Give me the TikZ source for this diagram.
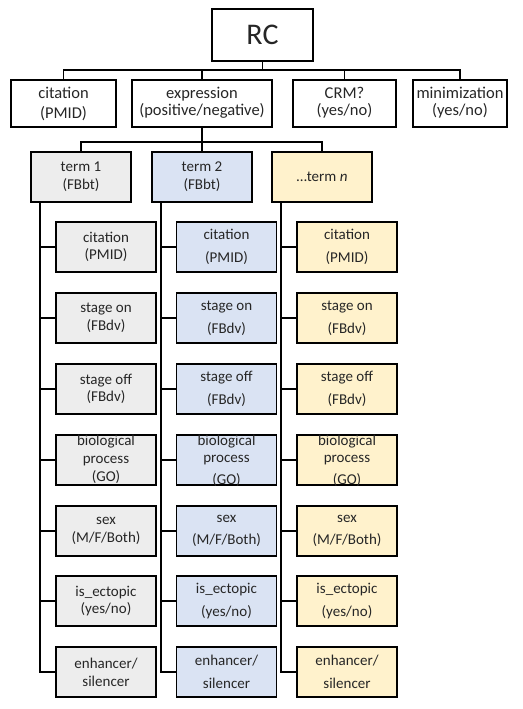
\documentclass[tikz,border=0pt]{standalone}
\usepackage{fontspec}
\setmainfont{Carlito}
\definecolor{gfill}{HTML}{EDEDED}
\definecolor{bfill}{HTML}{DAE3F3}
\definecolor{yfill}{HTML}{FFF2CC}
\definecolor{tcol}{HTML}{262626}
\begin{document}
\begin{tikzpicture}[x=1pt,y=-1pt,
  box/.style={draw=black, line width=1.8pt, inner sep=0pt, minimum height=50pt, minimum width=100pt},
  topbox/.style={box, minimum height=47pt},
  conn/.style={draw=black, line width=1.6pt},
  ttop/.style={inner sep=0pt, align=center, text=tcol, font=\fontsize{16.5}{17}\selectfont},
  tone/.style={inner sep=0pt, align=center, text=tcol, font=\fontsize{15}{17.7}\selectfont},
  ttwo/.style={inner sep=0pt, align=center, text=tcol, font=\fontsize{15}{22.6}\selectfont},
  trc/.style={inner sep=0pt, text=tcol, font=\fontsize{30}{36}\selectfont}]
\useasboundingbox (0,0) rectangle (522,709);

% root
\node[box, minimum width=101pt, minimum height=52pt] (rc) at (262.5,35) {};
\node[trc] (rct) at (rc.center) {RC};

% top row
\node[topbox, minimum width=105pt] (cit) at (63.5,103.5) {};
\node[ttop, font=\fontsize{16.5}{20}\selectfont] (citt) at (cit.center) {citation\\(PMID)};
\node[topbox, minimum width=140pt] (expr) at (202,103.5) {};
\node[ttop] (exprt) at ([yshift=1pt]expr.center) {expression\\(positive/negative)};
\node[topbox, minimum width=103pt] (crm) at (344.5,103.5) {};
\node[ttop] (crmt) at ([yshift=1pt]crm.center) {CRM?\\(yes/no)};
\node[topbox, minimum width=94pt] (mini) at (460,103.5) {};
\node[ttop] (minit) at ([yshift=1pt]mini.center) {minimization\\(yes/no)};

\foreach \n in {cit,expr,crm,mini}
  \draw[conn] (rc.south) -- ++(0,8) -| (\n.north);

% term row
\node[box, fill=gfill] (t1) at (81,177) {};
\node[tone] (t1t) at (t1.center) {term 1\\(FBbt)};
\node[box, fill=bfill] (t2) at (202,177) {};
\node[tone] (t2t) at (t2.center) {term 2\\(FBbt)};
\node[box, fill=yfill] (t3) at (322,177) {};
\node[tone] (t3t) at (t3.center) {\ldots term \textit{n}};

\foreach \n in {t1,t2,t3}
  \draw[conn] (expr.south) -- ++(0,14) -| (\n.north);

% children
\foreach \col/\xc/\fc/\ts in {1/106/gfill/tone, 2/226.5/bfill/ttwo, 3/347/yfill/ttwo}{
  \node[box, fill=\fc] (c\col-1) at (\xc,247) {};
  \node[\ts] (c\col-1t) at (c\col-1.center) {citation\\(PMID)};
  \node[box, fill=\fc] (c\col-2) at (\xc,318) {};
  \node[\ts] (c\col-2t) at (c\col-2.center) {stage on\\(FBdv)};
  \node[box, fill=\fc] (c\col-3) at (\xc,389) {};
  \node[\ts] (c\col-3t) at (c\col-3.center) {stage off\\(FBdv)};
  \node[box, fill=\fc] (c\col-4) at (\xc,460) {};
  \node[box, fill=\fc] (c\col-5) at (\xc,531) {};
  \node[\ts] (c\col-5t) at (c\col-5.center) {sex\\(M/F/Both)};
  \node[box, fill=\fc] (c\col-6) at (\xc,601) {};
  \node[\ts] (c\col-6t) at (c\col-6.center) {is\_ectopic\\(yes/no)};
  \node[box, fill=\fc] (c\col-7) at (\xc,672) {};
  \node[\ts] (c\col-7t) at (c\col-7.center) {enhancer/\\silencer};
  \foreach \k in {1,...,7}
    \draw[conn] ([xshift=10pt]t\col.south west) |- (c\col-\k.west);
}
\node[tone, font=\fontsize{15}{18}\selectfont] (c1-4t) at ([yshift=0.5pt]c1-4.center) {biological\\process\\(GO)};
\node[ttwo] (c2-4t) at ([yshift=-1pt]c2-4.center) {biological\\[-6.2pt]process\\(GO)};
\node[ttwo] (c3-4t) at ([yshift=-1pt]c3-4.center) {biological\\[-6.2pt]process\\(GO)};
\end{tikzpicture}
\end{document}
